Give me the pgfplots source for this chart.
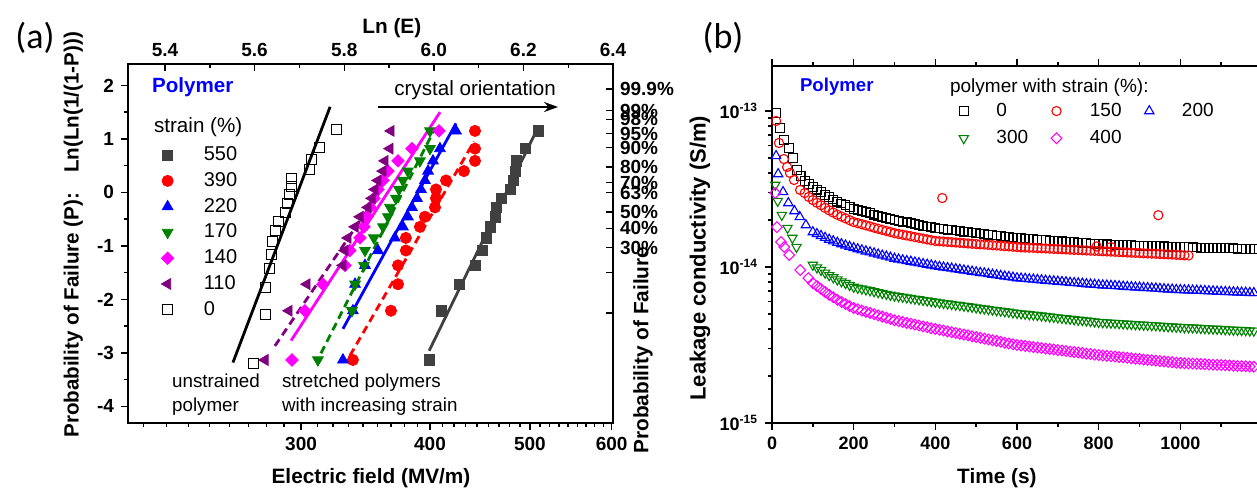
\documentclass[border=0pt]{standalone}
\usepackage{fontspec}
\setmainfont{Liberation Sans}
\newfontfamily\calib{Carlito}
\usepackage{pgfplots}
\usepackage{pgfplotstable}
\pgfplotsset{compat=1.18}
\usetikzlibrary{arrows.meta}

\definecolor{cgray}{HTML}{404040}
\definecolor{cred}{HTML}{FF0000}
\definecolor{cblue}{HTML}{0000FF}
\definecolor{cgreen}{HTML}{008000}
\definecolor{cmag}{HTML}{FF00FF}
\definecolor{cpur}{HTML}{800080}

% ---------- panel (a): Weibull data, E in MV/m, y = ln(ln(1/(1-P))) ----------
\pgfplotstableread{
E y
399.3 -3.132
410.2 -2.212
427.0 -1.716
442.6 -1.364
449.6 -1.086
453.7 -0.851
457.7 -0.644
462.8 -0.456
463.9 -0.280
469.1 -0.111
478.6 0.055
481.9 0.223
484.0 0.398
485.1 0.589
494.9 0.818
509.3 1.149
}\graydata
\pgfplotstableread{
E y
336.8 -3.132
366.7 -2.212
372.5 -1.716
372.5 -1.364
379.1 -1.086
379.1 -0.851
391.2 -0.644
395.6 -0.456
404.5 -0.280
405.4 -0.111
405.4 0.055
414.6 0.223
431.5 0.398
442.3 0.589
442.3 0.818
442.3 1.149
}\reddata
\pgfplotstableread{
E y
329.4 -3.132
336.8 -2.212
338.4 -1.716
346.0 -1.364
356.2 -1.086
369.9 -0.851
376.6 -0.644
380.8 -0.456
384.3 -0.280
388.6 -0.111
392.1 0.055
395.6 0.223
398.3 0.398
402.7 0.589
409.0 0.818
423.9 1.149
}\bluedata
\pgfplotstableread{
E y
311.5 -3.132
336.1 -2.212
338.4 -1.716
345.2 -1.364
346.0 -1.086
353.0 -0.851
360.2 -0.644
364.2 -0.456
365.8 -0.280
370.8 -0.111
373.3 0.055
376.6 0.223
380.8 0.398
391.2 0.589
400.0 0.818
400.0 1.149
}\greendata
\pgfplotstableread{
E y
294.0 -3.132
302.6 -2.212
315.0 -1.716
330.9 -1.364
334.6 -1.086
342.2 -0.851
345.2 -0.644
347.6 -0.456
349.9 -0.280
353.0 -0.111
356.2 0.055
360.2 0.223
364.2 0.398
372.5 0.589
384.3 0.818
408.1 1.149
}\magdata
\pgfplotstableread{
E y
276.8 -3.132
292.0 -2.212
304.0 -1.716
329.4 -1.364
330.9 -1.086
333.1 -0.851
338.4 -0.644
342.2 -0.456
348.3 -0.280
351.5 -0.111
353.8 0.055
356.2 0.223
360.2 0.398
361.8 0.589
365.8 0.818
366.7 1.149
}\purdata
\pgfplotstableread{
E y
269.5 -3.193
276.8 -2.275
277.4 -1.780
279.9 -1.431
280.6 -1.156
281.2 -0.924
283.1 -0.721
285.0 -0.537
289.5 -0.367
290.8 -0.204
292.1 -0.047
293.4 0.110
294.0 0.269
305.4 0.437
307.4 0.622
312.9 0.844
324.4 1.167
}\blackdata

% ---------- panel (b): leakage conductivity, stored as log10(S/m) ----------
\pgfplotstableread{
t bk bl gr mg
100 -13.487 -13.776 -13.987 -14.103
110 -13.504 -13.788 -14.004 -14.122
120 -13.520 -13.800 -14.020 -14.141
130 -13.537 -13.812 -14.037 -14.160
140 -13.553 -13.824 -14.053 -14.178
150 -13.567 -13.834 -14.067 -14.194
160 -13.581 -13.844 -14.081 -14.210
170 -13.593 -13.853 -14.093 -14.224
180 -13.604 -13.861 -14.104 -14.237
190 -13.616 -13.870 -14.116 -14.250
200 -13.628 -13.878 -14.128 -14.263
210 -13.635 -13.885 -14.134 -14.271
220 -13.642 -13.892 -14.139 -14.279
230 -13.649 -13.899 -14.145 -14.287
240 -13.656 -13.905 -14.150 -14.294
250 -13.664 -13.912 -14.156 -14.302
260 -13.671 -13.919 -14.162 -14.310
270 -13.678 -13.926 -14.168 -14.318
280 -13.685 -13.932 -14.173 -14.325
290 -13.692 -13.939 -14.179 -14.333
300 -13.699 -13.946 -14.184 -14.341
310 -13.704 -13.951 -14.188 -14.347
320 -13.709 -13.956 -14.192 -14.352
330 -13.714 -13.961 -14.196 -14.358
340 -13.719 -13.965 -14.200 -14.363
350 -13.725 -13.970 -14.204 -14.369
360 -13.730 -13.975 -14.208 -14.375
370 -13.735 -13.980 -14.212 -14.381
380 -13.740 -13.984 -14.216 -14.386
390 -13.745 -13.989 -14.220 -14.392
400 -13.750 -13.994 -14.224 -14.397
410 -13.753 -13.998 -14.228 -14.402
420 -13.756 -14.002 -14.231 -14.407
430 -13.760 -14.006 -14.235 -14.413
440 -13.763 -14.009 -14.238 -14.418
450 -13.766 -14.013 -14.242 -14.423
460 -13.769 -14.017 -14.245 -14.428
470 -13.773 -14.021 -14.249 -14.433
480 -13.776 -14.025 -14.252 -14.438
490 -13.779 -14.029 -14.256 -14.444
500 -13.782 -14.033 -14.260 -14.449
510 -13.785 -14.037 -14.264 -14.454
520 -13.788 -14.040 -14.267 -14.459
530 -13.792 -14.044 -14.271 -14.464
540 -13.795 -14.048 -14.274 -14.469
550 -13.798 -14.052 -14.278 -14.474
560 -13.801 -14.056 -14.281 -14.479
570 -13.805 -14.060 -14.285 -14.485
580 -13.808 -14.063 -14.288 -14.490
590 -13.811 -14.067 -14.292 -14.495
600 -13.814 -14.071 -14.295 -14.500
610 -13.816 -14.073 -14.298 -14.503
620 -13.818 -14.075 -14.301 -14.506
630 -13.820 -14.078 -14.304 -14.510
640 -13.822 -14.080 -14.306 -14.513
650 -13.824 -14.082 -14.309 -14.516
660 -13.826 -14.084 -14.312 -14.519
670 -13.828 -14.087 -14.315 -14.523
680 -13.830 -14.089 -14.318 -14.526
690 -13.832 -14.091 -14.321 -14.529
700 -13.834 -14.093 -14.324 -14.532
710 -13.836 -14.095 -14.327 -14.535
720 -13.837 -14.097 -14.330 -14.538
730 -13.839 -14.100 -14.333 -14.542
740 -13.841 -14.102 -14.336 -14.545
750 -13.843 -14.104 -14.339 -14.548
760 -13.845 -14.106 -14.341 -14.551
770 -13.847 -14.109 -14.344 -14.555
780 -13.849 -14.111 -14.347 -14.558
790 -13.851 -14.113 -14.350 -14.561
800 -13.853 -14.115 -14.353 -14.564
810 -13.854 -14.117 -14.355 -14.567
820 -13.855 -14.118 -14.356 -14.569
830 -13.856 -14.120 -14.358 -14.572
840 -13.857 -14.121 -14.359 -14.574
850 -13.858 -14.123 -14.361 -14.577
860 -13.859 -14.125 -14.363 -14.579
870 -13.860 -14.127 -14.365 -14.582
880 -13.861 -14.128 -14.366 -14.585
890 -13.862 -14.130 -14.368 -14.588
900 -13.863 -14.131 -14.369 -14.590
910 -13.864 -14.133 -14.371 -14.593
920 -13.864 -14.134 -14.372 -14.595
930 -13.865 -14.136 -14.374 -14.598
940 -13.866 -14.137 -14.375 -14.600
950 -13.867 -14.139 -14.377 -14.603
960 -13.868 -14.141 -14.379 -14.605
970 -13.869 -14.143 -14.381 -14.608
980 -13.870 -14.144 -14.382 -14.610
990 -13.871 -14.146 -14.384 -14.613
1000 -13.872 -14.147 -14.385 -14.615
1010 -13.873 -14.148 -14.387 -14.617
1020 -13.873 -14.149 -14.388 -14.618
1030 -13.874 -14.150 -14.389 -14.619
1040 -13.875 -14.151 -14.390 -14.620
1050 -13.876 -14.152 -14.392 -14.622
1060 -13.876 -14.153 -14.393 -14.623
1070 -13.877 -14.154 -14.395 -14.625
1080 -13.878 -14.155 -14.396 -14.626
1090 -13.879 -14.157 -14.397 -14.627
1100 -13.879 -14.158 -14.398 -14.628
1110 -13.880 -14.159 -14.400 -14.630
1120 -13.880 -14.160 -14.401 -14.631
1130 -13.881 -14.161 -14.403 -14.633
1140 -13.882 -14.162 -14.404 -14.634
1150 -13.883 -14.163 -14.405 -14.635
1160 -13.883 -14.164 -14.406 -14.636
1170 -13.884 -14.165 -14.408 -14.638
1180 -13.884 -14.166 -14.409 -14.639
}\latedata
\pgfplotstableread{
t L
100 -13.571
110 -13.588
120 -13.604
130 -13.621
140 -13.637
150 -13.651
160 -13.665
170 -13.677
180 -13.688
190 -13.700
200 -13.712
210 -13.719
220 -13.726
230 -13.733
240 -13.740
250 -13.748
260 -13.755
270 -13.762
280 -13.769
290 -13.776
300 -13.783
310 -13.788
320 -13.793
330 -13.798
340 -13.803
350 -13.808
360 -13.813
370 -13.818
380 -13.823
390 -13.828
400 -13.833
410 -13.835
420 -13.837
430 -13.839
440 -13.841
450 -13.843
460 -13.845
470 -13.847
480 -13.849
490 -13.851
500 -13.853
510 -13.855
520 -13.856
530 -13.858
540 -13.860
550 -13.862
560 -13.864
570 -13.866
580 -13.868
590 -13.870
600 -13.872
610 -13.874
620 -13.875
630 -13.876
640 -13.877
650 -13.879
660 -13.880
670 -13.881
680 -13.882
690 -13.884
700 -13.885
710 -13.886
720 -13.887
730 -13.889
740 -13.890
750 -13.891
760 -13.892
770 -13.894
780 -13.895
790 -13.896
800 -13.897
810 -13.899
820 -13.900
830 -13.901
840 -13.902
850 -13.904
860 -13.905
870 -13.907
880 -13.908
890 -13.909
900 -13.910
910 -13.912
920 -13.913
930 -13.914
940 -13.915
950 -13.917
960 -13.918
970 -13.919
980 -13.920
990 -13.922
1000 -13.923
1010 -13.925
1020 -13.926
}\redlate
\pgfplotstableread{
t L
10 -13.013
20 -13.109
30 -13.186
42 -13.237
52 -13.301
61 -13.378
70 -13.417
80 -13.449
90 -13.468
}\bkearly
\pgfplotstableread{
t L
10 -13.064
17 -13.205
29 -13.308
37 -13.359
44 -13.397
54 -13.442
69 -13.506
80 -13.526
90 -13.551
417 -13.558
795 -13.868
830 -13.872
946 -13.668
}\rdearly
\pgfplotstableread{
t L
10 -13.288
15 -13.404
27 -13.519
40 -13.590
55 -13.641
68 -13.679
83 -13.731
}\blearly
\pgfplotstableread{
t L
8 -13.474
14 -13.577
24 -13.667
38 -13.750
50 -13.814
60 -13.872
}\grearly
\pgfplotstableread{
t L
8 -13.526
12 -13.744
22 -13.840
30 -13.872
42 -13.923
69 -14.019
89 -14.071
}\mgearly

\begin{document}
\begin{tikzpicture}
\useasboundingbox (0,0) rectangle (628.5pt,246pt);
\clip (0,0) rectangle (628.5pt,246pt);

% ================= panel (a), bottom/left axis =================
\begin{axis}[
  at={(64pt,34.5pt)}, anchor=south west,
  scale only axis, width=242.5pt, height=179.5pt,
  xmode=log, xmin=203.9, xmax=601.85, ymin=-4.31, ymax=2.40,
  xtick={300,400,500,600}, xticklabels={300,400,500,600},
  minor xtick={211.1,222.2,233.3,244.4,255.6,266.7,277.8,288.9,311.1,322.2,333.3,344.4,355.6,366.7,377.8,388.9,411.1,422.2,433.3,444.4,455.6,466.7,477.8,488.9,511.1,522.2,533.3,544.4,555.6,566.7,577.8,588.9},
  ytick={-4,-3,-2,-1,0,1,2}, yticklabels={-4,-3,-2,-1,0,1,2},
  minor ytick={-3.5,-2.5,-1.5,-0.5,0.5,1.5},
  xtick pos=left, ytick pos=left,
  tick align=outside,
  major tick length=3.5pt, minor tick length=2pt,
  axis line style={line width=1pt},
  every tick/.style={black, line width=0.7pt},
  ticklabel style={font=\fontsize{9.5}{11}\selectfont\bfseries},
  clip=false,
  every axis plot post/.append style={legend image code/.code={\draw[#1] plot coordinates {(0pt,0pt)};}},
  legend cell align=left,
  legend style={at={(axis description cs:0.068,0.782)}, anchor=north west, draw=none, fill=none, inner sep=0pt,
    font=\fontsize{10}{12}\selectfont, row sep=0.4pt,
    /tikz/every odd column/.append style={column sep=13pt}},
]
\addplot[only marks, mark=square*, mark size=2.6pt, color=cgray] table[x=E,y=y] {\graydata};
\addlegendentry{550}
\addplot[only marks, mark=*, mark size=2.8pt, color=cred] table[x=E,y=y] {\reddata};
\addlegendentry{390}
\addplot[only marks, mark=triangle*, mark size=3.1pt, color=cblue] table[x=E,y=y] {\bluedata};
\addlegendentry{220}
\addplot[only marks, mark=triangle*, mark size=3.1pt, mark options={rotate=180}, color=cgreen] table[x=E,y=y] {\greendata};
\addlegendentry{170}
\addplot[only marks, mark=square*, mark size=2.2pt, mark options={rotate=45}, color=cmag] table[x=E,y=y] {\magdata};
\addlegendentry{140}
\addplot[only marks, mark=triangle*, mark size=3.1pt, mark options={rotate=90}, color=cpur] table[x=E,y=y] {\purdata};
\addlegendentry{110}
\addplot[only marks, mark=square, mark size=2.5pt, mark options={line width=0.5pt}, color=black] table[x=E,y=y] {\blackdata};
\addlegendentry{0}
% fit lines
\addplot[forget plot, no marks, line width=1.4pt, color=black] coordinates {(257.7,-3.18) (320.1,1.60)};
\addplot[forget plot, no marks, line width=1.4pt, color=cgray] coordinates {(399.3,-2.96) (505.7,1.10)};
\addplot[forget plot, no marks, line width=1.4pt, color=cred, dash pattern=on 4pt off 2.5pt] coordinates {(334.6,-3.05) (441.3,0.95)};
\addplot[forget plot, no marks, line width=1.4pt, color=cblue] coordinates {(329.4,-2.55) (423.9,1.29)};
\addplot[forget plot, no marks, line width=1.4pt, color=cgreen, dash pattern=on 4pt off 2.5pt] coordinates {(313.6,-3.01) (403.6,1.16)};
\addplot[forget plot, no marks, line width=1.4pt, color=cmag] coordinates {(293.4,-2.77) (409.1,1.50)};
\addplot[forget plot, no marks, line width=1.4pt, color=cpur, dash pattern=on 4pt off 2.5pt] coordinates {(283.0,-2.87) (360.2,0.10)};

\node[font=\fontsize{10.3}{12}\selectfont\bfseries, text=blue, anchor=west] at (axis description cs:0.035,0.936) {Polymer};
\node[font=\fontsize{10.3}{12}\selectfont, anchor=west] at (axis description cs:0.0392,0.8245) {strain (\%)};
\node[font=\fontsize{10.3}{12}\selectfont] at (axis description cs:0.7155,0.9276) {crystal orientation};
\draw[-{Stealth[length=7pt,width=5pt]}, line width=0.8pt] (axis description cs:0.5155,0.8802) -- (axis description cs:0.8866,0.8802);
\node[font=\fontsize{9.4}{12}\selectfont, anchor=west, align=left] at (axis description cs:0.0763,0.078) {unstrained\\polymer};
\node[font=\fontsize{9.4}{12}\selectfont, anchor=west, align=left] at (axis description cs:0.303,0.078) {stretched polymers\\with increasing strain};
\node[font=\fontsize{10.4}{12}\selectfont\bfseries] at (axis description cs:0.501,-0.153) {Electric field (MV/m)};
\node[font=\fontsize{10.3}{12}\selectfont\bfseries, rotate=90] at (axis description cs:-0.113,0.524) {Probability of Failure (P):\hspace{10pt}Ln(Ln(1/(1-P)))};
\node[font=\calib\fontsize{18}{20}\selectfont] at (axis description cs:-0.192,1.0724) {(a)};
\end{axis}

% ================= panel (a), top/right axis =================
\begin{axis}[
  at={(64pt,34.5pt)}, anchor=south west,
  scale only axis, width=242.5pt, height=179.5pt,
  xmin=5.3174, xmax=6.4, ymin=-4.31, ymax=2.40,
  axis x line*=top, axis y line*=right,
  xtick={5.4,5.6,5.8,6.0,6.2,6.4}, xticklabels={5.4,5.6,5.8,6.0,6.2,6.4},
  minor xtick={5.5,5.7,5.9,6.1,6.3},
  ytick={1.9327,1.5272,1.3641,1.0972,0.8340,0.4759,0.1856,-0.0057,-0.3665,-0.6717,-1.0309,-1.4999,-2.2504},
  yticklabels={99.9\%,99\%,98\%,95\%,90\%,80\%,70\%,63\%,50\%,40\%,30\%,,},
  tick align=inside,
  major tick length=3.5pt, minor tick length=2pt,
  axis line style={line width=1pt},
  every tick/.style={black, line width=0.7pt},
  ticklabel style={font=\fontsize{9.5}{11}\selectfont\bfseries},
  clip=false,
]
\node[font=\fontsize{10.4}{12}\selectfont\bfseries] at (axis description cs:0.544,1.0997) {Ln (E)};
\node[font=\fontsize{10.4}{12}\selectfont\bfseries, rotate=90] at (axis description cs:1.062,0.203) {Probability of Failure};
\end{axis}

% ================= panel (b) =================
\begin{axis}[
  at={(386pt,34.5pt)}, anchor=south west,
  scale only axis, width=245pt, height=178.5pt,
  xmin=0, xmax=1200, ymode=log, ymin=1e-15, ymax=1.942e-13,
  xtick={0,200,400,600,800,1000}, xticklabels={0,200,400,600,800,1000},
  minor xtick={100,300,500,700,900,1100},
  ytick={1e-15,1e-14,1e-13},
  yticklabels={10\textsuperscript{-15},10\textsuperscript{-14},10\textsuperscript{-13}},
  minor ytick={2e-15,3e-15,4e-15,5e-15,6e-15,7e-15,8e-15,9e-15,2e-14,3e-14,4e-14,5e-14,6e-14,7e-14,8e-14,9e-14},
  xtick pos=both, ytick pos=left,
  tick align=outside,
  major tick length=3.5pt, minor tick length=2pt,
  axis line style={line width=1pt},
  every tick/.style={black, line width=0.7pt},
  ticklabel style={font=\fontsize{9}{11}\selectfont\bfseries},
  clip=false,
  every axis plot post/.append style={legend image code/.code={\draw[#1] plot coordinates {(0pt,0pt)};}},
  legend columns=3,
  legend cell align=left,
  legend style={at={(axis description cs:0.381,0.909)}, anchor=north west, draw=none, fill=none, inner sep=0pt,
    font=\fontsize{9.5}{11}\selectfont, row sep=1.5pt,
    /tikz/every odd column/.append style={column sep=12pt},
    /tikz/every even column/.append style={column sep=9.5pt}},
]
\addplot[only marks, mark=square, mark size=2.2pt, mark options={line width=0.55pt}, color=black] table[x=t, y expr=10^(\thisrow{bk})] {\latedata};
\addlegendentry{0}
\addplot[only marks, mark=o, mark size=2.3pt, mark options={line width=0.55pt}, color=cred] table[x=t, y expr=10^(\thisrow{L})] {\redlate};
\addlegendentry{150}
\addplot[only marks, mark=triangle, mark size=2.7pt, mark options={line width=0.55pt}, color=cblue] table[x=t, y expr=10^(\thisrow{bl})] {\latedata};
\addlegendentry{200}
\addplot[only marks, mark=triangle, mark size=2.7pt, mark options={rotate=180,line width=0.55pt}, color=cgreen] table[x=t, y expr=10^(\thisrow{gr})] {\latedata};
\addlegendentry{300}
\addplot[only marks, mark=square, mark size=1.9pt, mark options={rotate=45,line width=0.55pt}, color=cmag] table[x=t, y expr=10^(\thisrow{mg})] {\latedata};
\addlegendentry{400}
\addplot[forget plot, only marks, mark=square, mark size=2.2pt, mark options={line width=0.55pt}, color=black] table[x=t, y expr=10^(\thisrow{L})] {\bkearly};
\addplot[forget plot, only marks, mark=o, mark size=2.3pt, mark options={line width=0.55pt}, color=cred] table[x=t, y expr=10^(\thisrow{L})] {\rdearly};
\addplot[forget plot, only marks, mark=triangle, mark size=2.7pt, mark options={line width=0.55pt}, color=cblue] table[x=t, y expr=10^(\thisrow{L})] {\blearly};
\addplot[forget plot, only marks, mark=triangle, mark size=2.7pt, mark options={rotate=180,line width=0.55pt}, color=cgreen] table[x=t, y expr=10^(\thisrow{L})] {\grearly};
\addplot[forget plot, only marks, mark=square, mark size=1.9pt, mark options={rotate=45,line width=0.55pt}, color=cmag] table[x=t, y expr=10^(\thisrow{L})] {\mgearly};

\node[font=\fontsize{9.3}{11}\selectfont\bfseries, text=blue, anchor=west] at (axis description cs:0.0429,0.941) {Polymer};
\node[font=\fontsize{9.5}{11}\selectfont, anchor=west] at (axis description cs:0.349,0.941) {polymer with strain (\%):};
\node[font=\fontsize{10.4}{12}\selectfont\bfseries] at (axis description cs:0.459,-0.154) {Time (s)};
\node[font=\fontsize{11}{13}\selectfont\bfseries, rotate=90] at (axis description cs:-0.147,0.462) {Leakage conductivity (S/m)};
\node[font=\calib\fontsize{18}{20}\selectfont] at (axis description cs:-0.1,1.0784) {(b)};
\end{axis}
\end{tikzpicture}
\end{document}
